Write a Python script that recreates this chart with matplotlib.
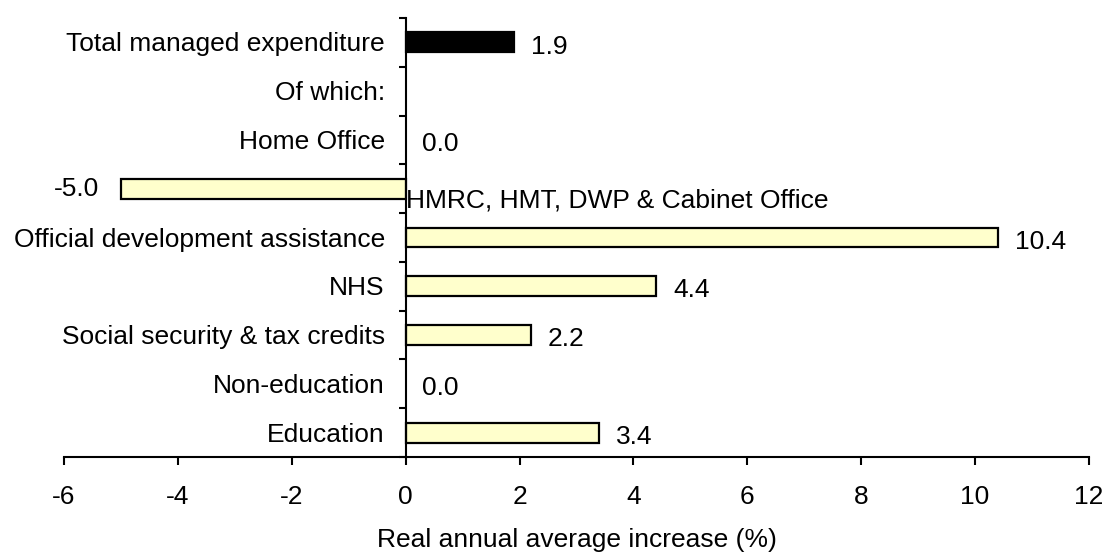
import numpy as np
import matplotlib
matplotlib.use("Agg")
import matplotlib.pyplot as plt
from matplotlib.transforms import offset_copy

plt.rcParams['font.family'] = ['Liberation Sans', 'DejaVu Sans']

# Data (top to bottom as in the chart)
categories = ['Total managed expenditure', 'Of which:', 'Home Office',
              'HMRC, HMT, DWP & Cabinet Office', 'Official development assistance',
              'NHS', 'Social security & tax credits', 'Non-education', 'Education']
values = [1.9, np.nan, 0.0, -5.0, 10.4, 4.4, 2.2, 0.0, 3.4]
bar_colors = ['#000000', '#FFFFCC', '#FFFFCC', '#FFFFCC', '#FFFFCC',
              '#FFFFCC', '#FFFFCC', '#FFFFCC', '#FFFFCC']
xticks = [-6, -4, -2, 0, 2, 4, 6, 8, 10, 12]
xlabel = 'Real annual average increase (%)'

FS = 19

fig = plt.figure(figsize=(11.06, 5.54), dpi=100)
ax = fig.add_axes([64 / 1106, 1 - 457 / 554, (1089 - 64) / 1106, (457 - 18) / 554])

n = len(categories)
ypos = np.arange(n)
for y, v, c in zip(ypos, values, bar_colors):
    if np.isnan(v) or v == 0:
        continue
    ax.barh(y, v, height=0.41, color=c, edgecolor='black', linewidth=1.6, zorder=2)

ax.set_xlim(-6, 12)
ax.set_ylim(n - 0.5, -0.5)

# spines
for s in ['top', 'right']:
    ax.spines[s].set_visible(False)
ax.spines['left'].set_position(('data', 0))
ax.spines['left'].set_linewidth(1.5)
ax.spines['bottom'].set_linewidth(1.5)
ax.spines['left'].set_zorder(3)

ax.set_xticks(xticks)
ax.set_xticklabels([str(t) for t in xticks])
ax.tick_params(axis='x', direction='out', length=6, width=1.5, labelsize=FS, pad=14)
ax.set_yticks(np.arange(-0.5, n, 1.0))
ax.set_yticklabels([])
ax.tick_params(axis='y', direction='out', length=5, width=1.5)
ax.set_xlabel(xlabel, fontsize=FS, labelpad=14)

for y, v, cat in zip(ypos, values, categories):
    if not np.isnan(v) and v < 0:
        # category label to the right of axis, slightly below
        ax.text(0, y + 0.25, cat, ha='left', va='center', fontsize=FS, zorder=4)
        tr = offset_copy(ax.transData, fig=fig, x=-16, y=0, units='points')
        ax.text(v, y, f'{v:.1f}', ha='right', va='center', fontsize=FS, transform=tr)
    else:
        trl = offset_copy(ax.transData, fig=fig, x=-15, y=-1.5, units='points')
        ax.text(0, y, cat, ha='right', va='center', fontsize=FS, transform=trl)
        if not np.isnan(v):
            tr = offset_copy(ax.transData, fig=fig, x=12, y=-3, units='points')
            ax.text(v, y, f'{v:.1f}', ha='left', va='center', fontsize=FS, transform=tr)

fig.savefig('out.png', dpi=100)
